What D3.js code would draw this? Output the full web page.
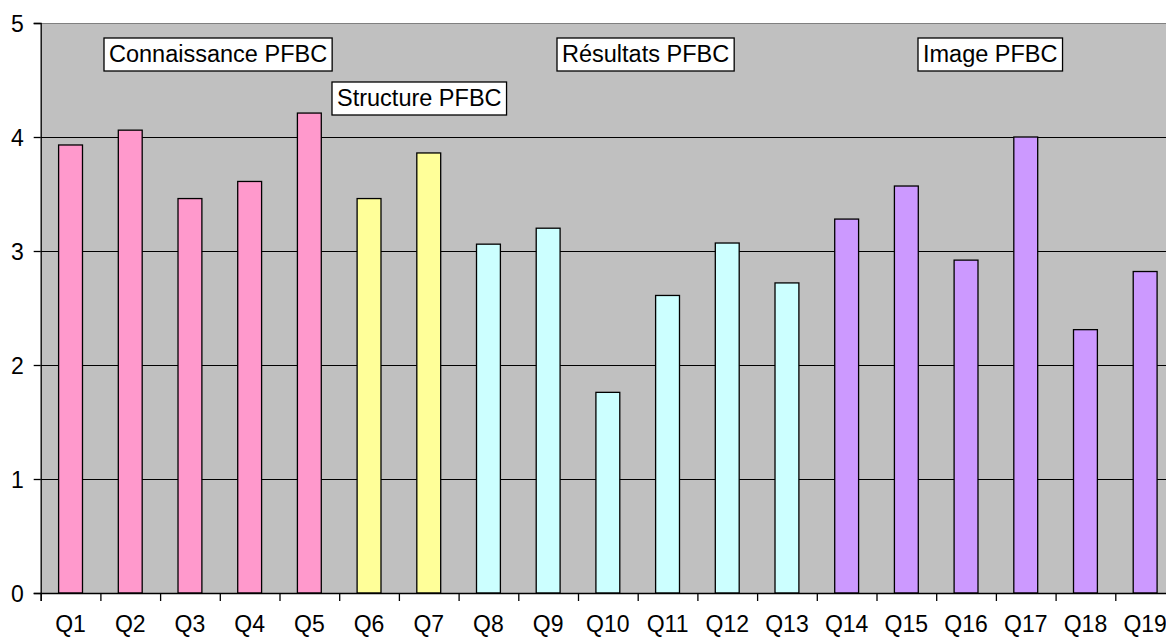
<!DOCTYPE html>
<html>
<head>
<meta charset="utf-8">
<script src="https://cdn.jsdelivr.net/npm/d3@7"></script>
<style>
  body { margin: 0; background: #fff; }
  text { font-family: Arial, "Liberation Sans", sans-serif; }
</style>
</head>
<body>
<div id="chart"></div>
<script>
var categories = ["Q1", "Q2", "Q3", "Q4", "Q5", "Q6", "Q7", "Q8", "Q9", "Q10",
  "Q11", "Q12", "Q13", "Q14", "Q15", "Q16", "Q17", "Q18", "Q19"];
var values = [3.93, 4.06, 3.46, 3.61, 4.21, 3.46, 3.86, 3.06, 3.20, 1.76,
  2.61, 3.07, 2.72, 3.28, 3.57, 2.92, 4.00, 2.31, 2.82];
var groups = ["Connaissance", "Connaissance", "Connaissance", "Connaissance", "Connaissance",
  "Structure", "Structure", "Résultats", "Résultats", "Résultats", "Résultats", "Résultats", "Résultats",
  "Image", "Image", "Image", "Image", "Image", "Image"];
var yTicks = [0, 1, 2, 3, 4, 5];
var groupLabels = ["Connaissance PFBC", "Structure PFBC", "Résultats PFBC", "Image PFBC"];

var w = 1166,
  h = 637,
  plotLeft = 40.7,
  plotTop = 23,
  plotBottom = 593,
  step = 59.7;

var colors = {
  "Connaissance": "#ff99cc",
  "Structure": "#ffff99",
  "Résultats": "#ccffff",
  "Image": "#cc99ff"
};

// label box top-left corners (pixels)
var labelPos = [[104, 38], [332, 82], [557, 38], [918, 38]];

var x = d3.scaleBand().domain(categories)
  .range([plotLeft, plotLeft + step * categories.length])
  .paddingInner(0.6).paddingOuter(0.3);
var xEdge = d3.scaleLinear().domain([0, categories.length])
  .range([plotLeft, plotLeft + step * categories.length]);
var y = d3.scaleLinear().domain([0, 5]).range([plotBottom, plotTop]);

var svg = d3.select("#chart").append("svg")
  .attr("width", w).attr("height", h);

svg.append("rect")
  .attr("x", plotLeft).attr("y", plotTop)
  .attr("width", w - plotLeft).attr("height", plotBottom - plotTop)
  .attr("fill", "#c0c0c0");

svg.append("g").selectAll("line").data(yTicks.slice(1)).join("line")
  .attr("x1", plotLeft).attr("x2", w)
  .attr("y1", function(d) { return Math.round(y(d)) + 0.5; })
  .attr("y2", function(d) { return Math.round(y(d)) + 0.5; })
  .attr("stroke", function(d) { return d === 5 ? "#808080" : "#000"; })
  .attr("stroke-width", 1);

svg.append("g").selectAll("rect").data(values).join("rect")
  .attr("x", function(d, i) { return x(categories[i]); })
  .attr("y", function(d) { return y(d); })
  .attr("width", x.bandwidth())
  .attr("height", function(d) { return plotBottom - y(d); })
  .attr("fill", function(d, i) { return colors[groups[i]]; })
  .attr("stroke", "#000").attr("stroke-width", 1.3);

var yAxis = d3.axisLeft(y).tickValues(yTicks).tickFormat(d3.format("d")).tickSize(7).tickPadding(10);
var gy = svg.append("g").attr("transform", "translate(" + plotLeft + ",0)").call(yAxis);
gy.selectAll("text").attr("font-size", "23px").attr("dy", "0.38em").attr("fill", "#000");

var edgeAxis = d3.axisBottom(xEdge).tickValues(d3.range(categories.length + 1))
  .tickSize(8).tickFormat("");
var ge = svg.append("g").attr("transform", "translate(0," + plotBottom + ")").call(edgeAxis);
ge.selectAll("text").remove();

var xAxis = d3.axisBottom(x).tickSize(0).tickPadding(23);
var gx = svg.append("g").attr("transform", "translate(0," + plotBottom + ")").call(xAxis);
gx.select(".domain").remove();
gx.selectAll("text").attr("font-size", "23px").attr("fill", "#000");

svg.selectAll(".domain, .tick line").attr("stroke", "#000").attr("stroke-width", 1.3);

var labels = svg.append("g").selectAll("g").data(groupLabels).join("g")
  .attr("transform", function(d, i) { return "translate(" + labelPos[i][0] + "," + labelPos[i][1] + ")"; });
labels.append("rect").attr("fill", "#fff").attr("stroke", "#000").attr("stroke-width", 1.3)
  .attr("height", 33);
labels.append("text").attr("x", 5).attr("y", 24).attr("font-size", "23.5px").text(function(d) { return d; });
labels.each(function() {
  var g = d3.select(this);
  var tw = g.select("text").node().getComputedTextLength();
  g.select("rect").attr("width", tw + 10);
});
</script>
</body>
</html>
